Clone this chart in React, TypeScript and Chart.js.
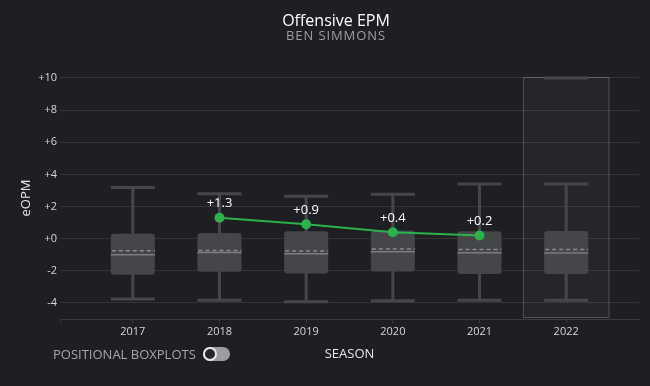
import React, { useEffect, useRef } from "react";
import { Chart, registerables } from "chart.js";

Chart.register(...registerables);

const seasons = [2017, 2018, 2019, 2020, 2021, 2022];
const whiskerLow = [-3.75, -3.83, -3.92, -3.87, -3.83, -3.83];
const q1 = [-2.25, -2.06, -2.17, -2.04, -2.2, -2.2];
const median = [-1.0, -0.86, -0.94, -0.81, -0.87, -0.9];
const mean = [-0.75, -0.73, -0.77, -0.65, -0.67, -0.67];
const q3 = [0.3, 0.35, 0.46, 0.5, 0.46, 0.48];
const whiskerHigh = [3.19, 2.8, 2.64, 2.77, 3.4, 3.4];
const maxMark: (number | null)[] = [null, null, null, null, null, 10];

const playerSeasons = [2018, 2019, 2020, 2021];
const playerEpm = [1.3, 0.9, 0.4, 0.2];

const yTicks = [-4, -2, 0, 2, 4, 6, 8, 10];
const highlightSeason = 2022;

const titleText = "Offensive EPM";
const subtitleText = "BEN SIMMONS";

const BG = "#1e1f23";
const FONT = "'Open Sans', 'Noto Sans', sans-serif";
const fmt = (v: number) => (v >= 0 ? "+" : "") + v.toFixed(v % 1 === 0 ? 0 : 1);

const boxPlugin = {
  id: "boxes",
  beforeDatasetsDraw(chart: any) {
    const { ctx, chartArea } = chart;
    const x = chart.scales.x;
    const y = chart.scales.y;
    const halfW = 0.254;
    ctx.save();
    const hl = x.getPixelForValue(highlightSeason - 0.5);
    const hr = x.getPixelForValue(highlightSeason + 0.5);
    ctx.fillStyle = "rgba(255,255,255,0.035)";
    ctx.fillRect(hl, chartArea.top, hr - hl, chartArea.bottom - chartArea.top - 1);
    ctx.strokeStyle = "rgba(255,255,255,0.2)";
    ctx.lineWidth = 1;
    ctx.strokeRect(hl + 0.5, chartArea.top + 0.5, hr - hl - 1, chartArea.bottom - chartArea.top - 2);

    seasons.forEach((s, i) => {
      const cx = x.getPixelForValue(s);
      const l = x.getPixelForValue(s - halfW);
      const r = x.getPixelForValue(s + halfW);
      const yLo = y.getPixelForValue(whiskerLow[i]);
      const yHi = y.getPixelForValue(whiskerHigh[i]);
      const yQ1 = y.getPixelForValue(q1[i]);
      const yQ3 = y.getPixelForValue(q3[i]);
      ctx.strokeStyle = "#46474b";
      ctx.lineWidth = 3;
      ctx.beginPath();
      ctx.moveTo(cx, yHi);
      ctx.lineTo(cx, yLo);
      ctx.moveTo(l, yHi);
      ctx.lineTo(r, yHi);
      ctx.moveTo(l, yLo);
      ctx.lineTo(r, yLo);
      const m = maxMark[i];
      if (m !== null) {
        const ym = y.getPixelForValue(m);
        ctx.moveTo(l, ym);
        ctx.lineTo(r, ym);
      }
      ctx.stroke();
      ctx.fillStyle = "#45464a";
      ctx.beginPath();
      if (ctx.roundRect) ctx.roundRect(l, yQ3, r - l, yQ1 - yQ3, 3);
      else ctx.rect(l, yQ3, r - l, yQ1 - yQ3);
      ctx.fill();
      const yMed = y.getPixelForValue(median[i]);
      const yMean = y.getPixelForValue(mean[i]);
      ctx.lineWidth = 1.5;
      ctx.strokeStyle = "#7c7d81";
      ctx.beginPath();
      ctx.moveTo(l, yMed);
      ctx.lineTo(r, yMed);
      ctx.stroke();
      ctx.setLineDash([4, 3]);
      ctx.strokeStyle = "#8a8b8f";
      ctx.beginPath();
      ctx.moveTo(l + 1, yMean);
      ctx.lineTo(r, yMean);
      ctx.stroke();
      ctx.setLineDash([]);
    });
    ctx.restore();
  },
  afterDatasetsDraw(chart: any) {
    const { ctx } = chart;
    const meta = chart.getDatasetMeta(0);
    ctx.save();
    ctx.fillStyle = "#ffffff";
    ctx.font = `13px ${FONT}`;
    ctx.textAlign = "center";
    ctx.textBaseline = "middle";
    meta.data.forEach((pt: any, i: number) => {
      ctx.fillText(fmt(playerEpm[i]), pt.x, pt.y - 14);
    });
    ctx.restore();
  },
  afterDraw(chart: any) {
    const { ctx } = chart;
    ctx.save();
    ctx.textAlign = "center";
    ctx.textBaseline = "middle";
    ctx.fillStyle = "#ffffff";
    ctx.font = `16px ${FONT}`;
    ctx.fillText(titleText, 336, 21);
    ctx.fillStyle = "#9d9ea2";
    ctx.font = `13px ${FONT}`;
    if ("letterSpacing" in ctx) (ctx as any).letterSpacing = "0.9px";
    ctx.fillText(subtitleText, 336, 36.5);
    ctx.restore();
  },
};

export default function App() {
  const ref = useRef<HTMLCanvasElement>(null);
  useEffect(() => {
    document.body.style.margin = "0";
    document.body.style.background = BG;
    const chart = new Chart(ref.current!, {
      type: "line",
      data: {
        datasets: [
          {
            data: playerSeasons.map((s, i) => ({ x: s, y: playerEpm[i] })),
            borderColor: "#2bb24c",
            backgroundColor: "#2bb24c",
            borderWidth: 2,
            pointRadius: 5,
            pointHoverRadius: 5,
            pointBorderWidth: 0,
            tension: 0,
          },
        ],
      },
      options: {
        responsive: false,
        animation: false,
        layout: { padding: { left: 0, right: 11, top: 77, bottom: 0 } },
        plugins: {
          legend: { display: false },
          tooltip: { enabled: false },
          title: { display: false },
          subtitle: { display: false },
        },
        scales: {
          x: {
            type: "linear",
            min: 2016.16,
            max: 2022.84,
            afterBuildTicks: (scale: any) => {
              scale.ticks = [scale.min, ...seasons].map((v) => ({ value: v }));
            },
            afterFit: (scale: any) => {
              scale.height = 67;
            },
            ticks: {
              autoSkip: false,
              maxRotation: 0,
              padding: 2,
              color: "#d6d6d8",
              font: { family: FONT, size: 11 },
              callback: (v: any) => (Number.isInteger(v) ? String(v) : ""),
            },
            grid: {
              drawOnChartArea: false,
              drawTicks: true,
              tickLength: 4,
              color: "#3a3b3f",
            },
            border: { display: true, color: "#3a3b3f" },
            title: {
              display: true,
              text: "SEASON",
              color: "#e6e6e8",
              font: { family: FONT, size: 13 },
              padding: { top: 0, bottom: 24 },
            },
          },
          y: {
            min: -5,
            max: 10.06,
            afterBuildTicks: (scale: any) => {
              scale.ticks = yTicks.map((v) => ({ value: v }));
            },
            afterFit: (scale: any) => {
              scale.width = 60;
            },
            ticks: {
              padding: 3,
              color: "#d6d6d8",
              font: { family: FONT, size: 11 },
              callback: (v: any) => fmt(Number(v)),
            },
            grid: { color: "#333438", drawTicks: false },
            border: { display: false },
            title: {
              display: true,
              text: "eOPM",
              color: "#e6e6e8",
              font: { family: FONT, size: 13 },
              padding: { top: 18, bottom: 0 },
            },
          },
        },
      },
      plugins: [boxPlugin],
    } as any);
    return () => chart.destroy();
  }, []);

  return (
    <div style={{ position: "fixed", left: 0, top: 0, width: 650, height: 386, background: BG }}>
      <canvas ref={ref} width={650} height={386} style={{ display: "block" }} />
      <div
        style={{
          position: "absolute",
          left: 53,
          top: 345,
          display: "flex",
          alignItems: "center",
          fontFamily: FONT,
          fontSize: 13,
          color: "#a6a7ab",
          whiteSpace: "nowrap",
        }}
      >
        <span>POSITIONAL BOXPLOTS</span>
        <span
          style={{
            position: "relative",
            display: "inline-block",
            width: 27,
            height: 14,
            borderRadius: 7,
            background: "#9c9da1",
            marginLeft: 7,
          }}
        >
          <span
            style={{
              position: "absolute",
              left: 0,
              top: 0,
              width: 10,
              height: 10,
              borderRadius: 7,
              border: "2px solid #e8e8e8",
              background: "#26272b",
            }}
          />
        </span>
      </div>
    </div>
  );
}
